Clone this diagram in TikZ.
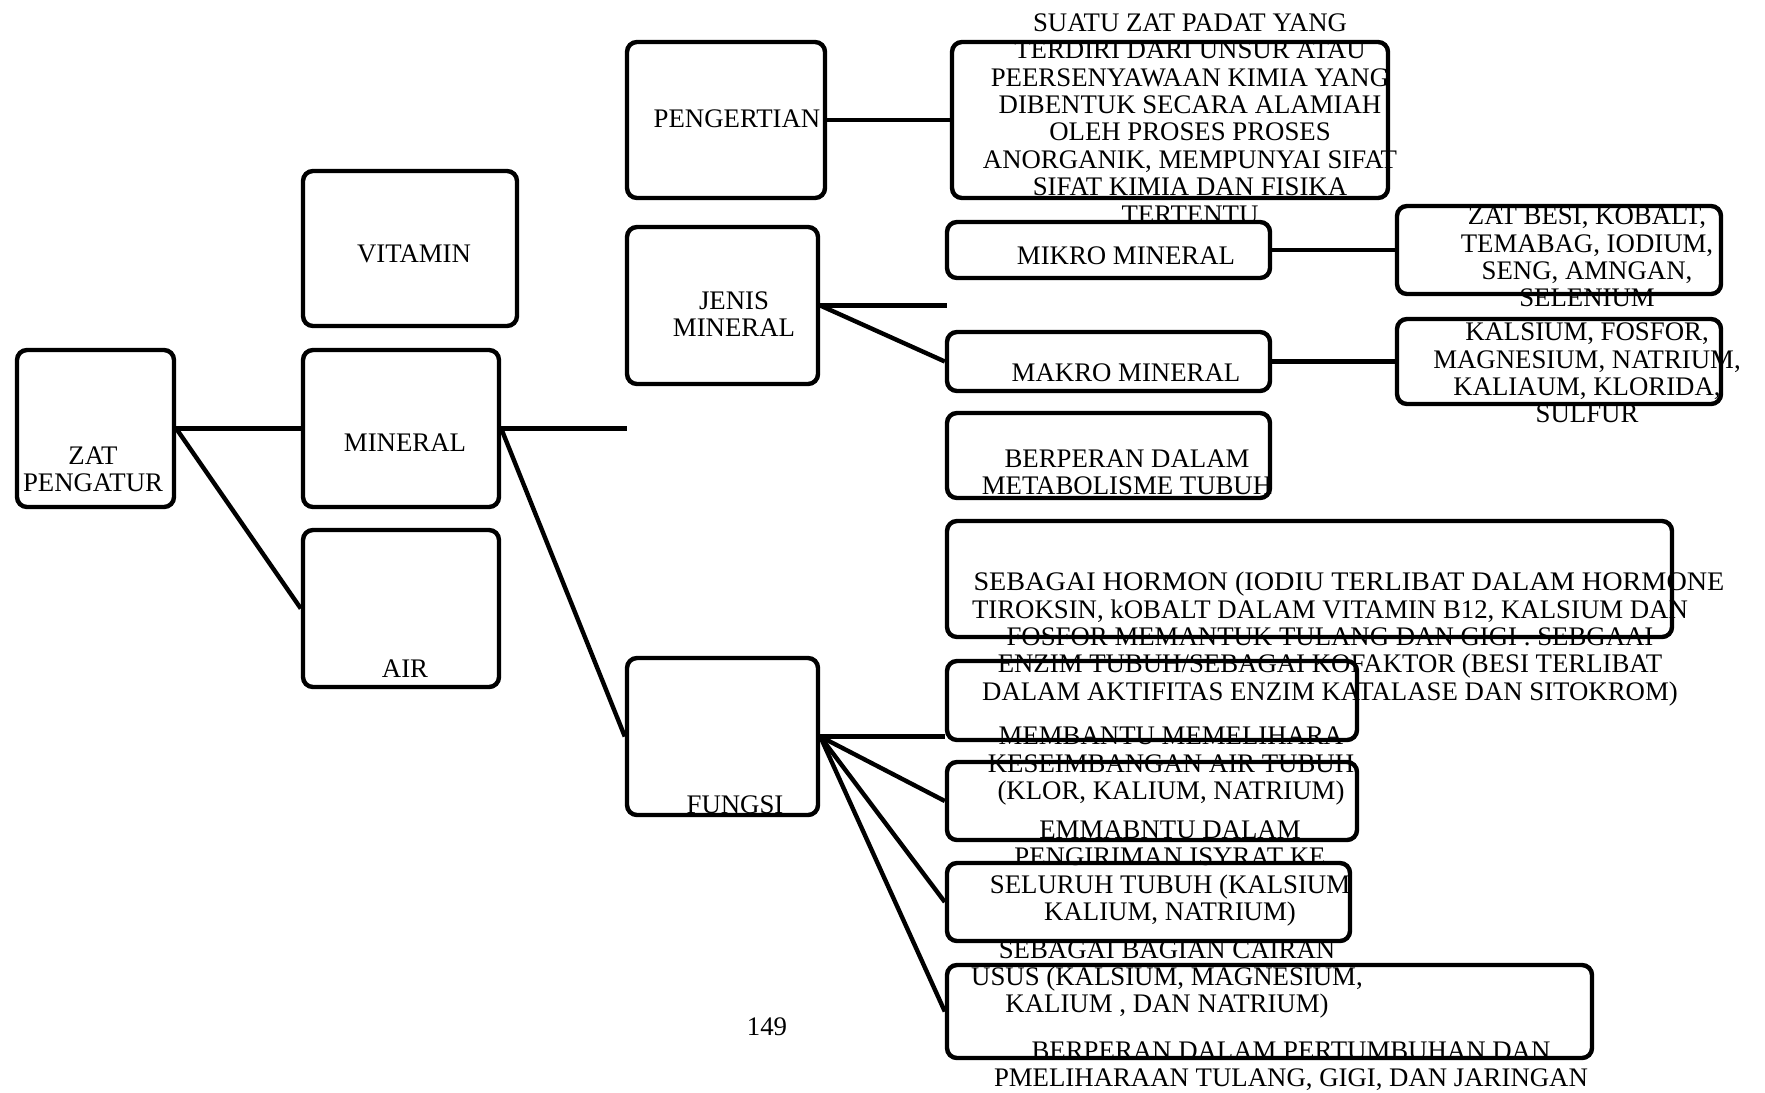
\documentclass[tikz,border=0pt]{standalone}
\usepackage{fontspec}
\setmainfont{Liberation Serif}
\begin{document}
\begin{tikzpicture}[x=0.5pt,y=-0.5pt,
  box/.style={draw=black,line width=2.2pt,rounded corners=5pt,inner sep=0pt},
  conn/.style={line width=2.2pt},
  txt/.style={inner sep=0pt,align=center,font=\fontsize{13.4}{13.7}\selectfont}]
\useasboundingbox (0,0) rectangle (1765,1092);
% boxes
\node[box,minimum width=78.5pt,minimum height=78.5pt] (zat) at (95.5,428.5) {};
\node[box,minimum width=107pt,minimum height=77.5pt] (vitamin) at (410,248.5) {};
\node[box,minimum width=98pt,minimum height=78.5pt] (mineral) at (401,428.5) {};
\node[box,minimum width=98pt,minimum height=78.5pt] (air) at (401,608.5) {};
\node[box,minimum width=99pt,minimum height=78pt] (peng) at (726,120) {};
\node[box,minimum width=218pt,minimum height=78pt] (def) at (1170,120) {};
\node[box,minimum width=95.5pt,minimum height=78.5pt] (jenis) at (722.5,305.5) {};
\node[box,minimum width=161.5pt,minimum height=28pt] (mikro) at (1108.5,250) {};
\node[box,minimum width=161.5pt,minimum height=29.5pt] (makro) at (1108.5,361.5) {};
\node[box,minimum width=162pt,minimum height=44pt] (list1) at (1559,250) {};
\node[box,minimum width=162pt,minimum height=42.5pt] (list2) at (1559,361.5) {};
\node[box,minimum width=161.5pt,minimum height=42.5pt] (metab) at (1108.5,455.5) {};
\node[box,minimum width=362.5pt,minimum height=58pt] (hormon) at (1309.5,579) {};
\node[box,minimum width=95.5pt,minimum height=78.5pt] (fungsi) at (722.5,736.5) {};
\node[box,minimum width=205pt,minimum height=39.5pt] (f2) at (1152,700.5) {};
\node[box,minimum width=205pt,minimum height=39pt] (f3) at (1152,801) {};
\node[box,minimum width=201.5pt,minimum height=39pt] (f4) at (1148.5,902) {};
\node[box,minimum width=322.5pt,minimum height=46.5pt] (f5) at (1269.5,1011.5) {};
% free ends
\coordinate (minend) at (627,428.5);
\coordinate (jenend) at (947,305.5);
% connectors
\draw[conn] (zat.east) -- (mineral.west);
\draw[conn] (zat.east) -- (air.west);
\draw[conn] (mineral.east) -- (minend);
\draw[conn] (mineral.east) -- (fungsi.west);
\draw[conn] (peng.east) -- (def.west);
\draw[conn] (jenis.east) -- (jenend);
\draw[conn] (jenis.east) -- (makro.west);
\draw[conn] (mikro.east) -- (list1.west);
\draw[conn] (makro.east) -- (list2.west);
\draw[conn] (fungsi.east) -- (fungsi.east -| f2.west);
\draw[conn] (fungsi.east) -- (f3.west);
\draw[conn] (fungsi.east) -- (f4.west);
\draw[conn] (fungsi.east) -- (f5.west);
% texts
\node[txt] (tzat) at (93,469.5) {ZAT\\PENGATUR};
\node[txt] (tvit) at (414,254) {VITAMIN};
\node[txt] (tmin) at (405,443) {MINERAL};
\node[txt] (tair) at (405,669) {AIR};
\node[txt] (tpeng) at (737,119) {PENGERTIAN};
\node[txt] (tdef) at (1190,118.5) {SUATU ZAT PADAT YANG\\TERDIRI DARI UNSUR ATAU\\PEERSENYAWAAN KIMIA YANG\\DIBENTUK SECARA ALAMIAH\\OLEH PROSES PROSES\\ANORGANIK, MEMPUNYAI SIFAT\\SIFAT KIMIA DAN FISIKA\\TERTENTU};
\node[txt] (tjenis) at (734,314) {JENIS\\MINERAL};
\node[txt] (tmikro) at (1126,256) {MIKRO MINERAL};
\node[txt] (tmakro) at (1126,373) {MAKRO MINERAL};
\node[txt] (tlist1) at (1587,257) {ZAT BESI, KOBALT,\\TEMABAG, IODIUM,\\SENG, AMNGAN,\\SELENIUM};
\node[txt] (tlist2) at (1587,373) {KALSIUM, FOSFOR,\\MAGNESIUM, NATRIUM,\\KALIAUM, KLORIDA,\\SULFUR};
\node[txt] (tmetab) at (1127,472) {BERPERAN DALAM\\METABOLISME TUBUH};
\node[txt] (thormon) at (1330,639) {\hspace*{19pt}\scalebox{1.052}[1]{SEBAGAI HORMON (IODIU TERLIBAT DALAM HORMONE}\\TIROKSIN, kOBALT DALAM VITAMIN B12, KALSIUM DAN\\FOSFOR MEMANTUK TULANG DAN GIGI . SEBGAAI\\ENZIM TUBUH/SEBAGAI KOFAKTOR (BESI TERLIBAT\\DALAM AKTIFITAS ENZIM KATALASE DAN SITOKROM)};
\node[txt] (tfungsi) at (735,805) {FUNGSI};
\node[txt] (tf2) at (1171,766) {MEMBANTU MEMELIHARA\\KESEIMBANGAN AIR TUBUH\\(KLOR, KALIUM, NATRIUM)};
\node[txt] (tf3) at (1170,873.5) {EMMABNTU DALAM\\PENGIRIMAN ISYRAT KE\\SELURUH TUBUH (KALSIUM\\KALIUM, NATRIUM)};
\node[txt] (tf4) at (1167,979.5) {SEBAGAI BAGIAN CAIRAN\\USUS (KALSIUM, MAGNESIUM,\\KALIUM , DAN NATRIUM)};
\node[txt] (tf5) at (1291,1066) {BERPERAN DALAM PERTUMBUHAN DAN\\PMELIHARAAN TULANG, GIGI, DAN JARINGAN};
\node[txt] (tpage) at (767,1027) {149};
\end{tikzpicture}
\end{document}
